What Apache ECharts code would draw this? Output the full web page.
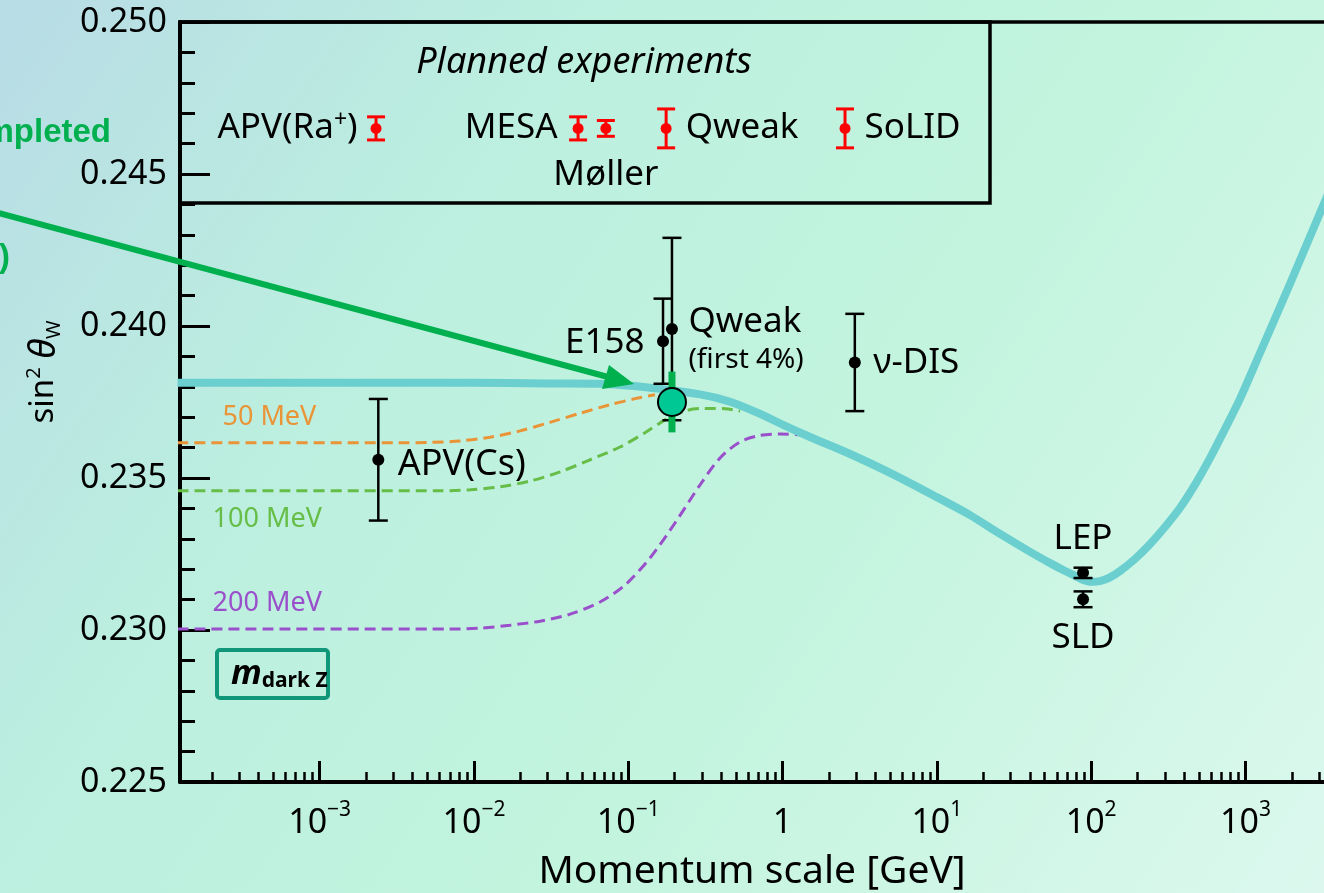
<!DOCTYPE html>
<html>
<head>
<meta charset="utf-8">
<title>Running of the weak mixing angle</title>
<script src="https://cdn.jsdelivr.net/npm/echarts@6/dist/echarts.min.js"></script>
<style>
  html, body { margin: 0; padding: 0; }
  #chart { width: 1324px; height: 893px; }
</style>
</head>
<body>
<div id="chart"></div>
<script>
// ---- data (momentum scale Q in GeV, sin^2 theta_W) ----

// Standard Model running of sin^2 theta_W
const smQ    = [1.2e-4, 1e-3, 0.01, 0.03, 0.0656, 0.138, 0.292, 0.457, 0.715, 1.007, 1.507, 2.74, 4.98, 10.0, 16.4, 25.7, 40.2, 54.2, 67.8, 78.7, 87.3, 98.4, 114.2, 132.5, 153.9, 192.6, 241, 301, 377, 471, 590, 738, 923, 1244, 1945, 4100];
const smSin2 = [0.23813, 0.23813, 0.23813, 0.23811, 0.2381, 0.23797, 0.23775, 0.23751, 0.23711, 0.23675, 0.23635, 0.23579, 0.23517, 0.23437, 0.23378, 0.23316, 0.23257, 0.2322, 0.23194, 0.23178, 0.23166, 0.23159, 0.23161, 0.23173, 0.23194, 0.23234, 0.23283, 0.23339, 0.23402, 0.23478, 0.23566, 0.23662, 0.23761, 0.23912, 0.24139, 0.24528];

// Dark Z scenarios
const dz50Q     = [1.2e-4, 0.00332, 0.00519, 0.00813, 0.0127, 0.0199, 0.0311, 0.0487, 0.0762, 0.1107, 0.149];
const dz50Sin2  = [0.23616, 0.23616, 0.23617, 0.23622, 0.23634, 0.23655, 0.23683, 0.23713, 0.23741, 0.23761, 0.23774];
const dz100Q    = [1.2e-4, 0.00603, 0.00944, 0.01476, 0.0231, 0.0361, 0.0565, 0.0885, 0.1285, 0.1733, 0.2335, 0.315, 0.424, 0.531];
const dz100Sin2 = [0.23458, 0.23458, 0.23461, 0.23471, 0.2349, 0.2352, 0.2356, 0.23602, 0.23649, 0.23691, 0.23721, 0.23729, 0.23728, 0.2372];
const dz200Q    = [1.2e-4, 0.007, 0.01096, 0.01714, 0.0268, 0.042, 0.0656, 0.0953, 0.1384, 0.2009, 0.2917, 0.3936, 0.531, 0.7147, 0.963, 1.298];
const dz200Sin2 = [0.23003, 0.23003, 0.23006, 0.23016, 0.23029, 0.23052, 0.23092, 0.23148, 0.23237, 0.23352, 0.23477, 0.23566, 0.23619, 0.2364, 0.23645, 0.23642];
const dzTags    = ['50 MeV', '100 MeV', '200 MeV'];

// Completed measurements
const measNames = ['APV(Cs)', 'E158', 'Qweak', 'ν-DIS', 'LEP', 'SLD'];
const measQ     = [0.0024, 0.168, 0.192, 2.94, 88.6, 88.6];
const measSin2  = [0.2356, 0.2395, 0.2399, 0.2388, 0.23188, 0.23101];
const measErr   = [0.0020, 0.0014, 0.0030, 0.0016, 0.00017, 0.00026];

// Qweak final result
const qweakQ = [0.192];
const qweakSin2 = [0.2375];
const qweakErr = [0.0010];

// Planned experiments (projected uncertainties)
const planNames = ['APV(Ra⁺)', 'MESA', 'Møller', 'Qweak', 'SoLID'];
const planQ     = [0.00232, 0.0473, 0.0716, 0.176, 2.54];
const planSin2  = [0.2465, 0.2465, 0.2465, 0.2465, 0.2465];
const planErr   = [0.00038, 0.00038, 0.00026, 0.00064, 0.00064];

// Axis ticks
const decadeTicks = [-3, -2, -1, 0, 1, 2, 3];
const minorMultipliers = [2, 3, 4, 5, 6, 7, 8, 9];

// ---- layout and styles ----
const FONT = '"Noto Sans", sans-serif';
const X_MIN = -3.905, X_MAX = 3.509;
const lg = Math.log10;

const minorTicks = [];
for (let d = -4; d <= 3; d++) {
  minorMultipliers.forEach(k => {
    const v = d + lg(k);
    if (v > X_MIN && v < X_MAX) minorTicks.push(v);
  });
}

function curveSeries(qs, vals, color, width, dashed, z) {
  return {
    type: 'line',
    data: qs.map((q, i) => [lg(q), vals[i]]),
    showSymbol: false,
    symbol: 'none',
    smooth: 0.3,
    clip: true,
    silent: true,
    z: z,
    lineStyle: { color: color, width: width, type: dashed ? [11, 6] : 'solid', cap: 'butt', opacity: 1 }
  };
}

function errorBarRenderer(color, lineW, capW, dotR) {
  return function (params, api) {
    const x = api.value(0), y = api.value(1), e = api.value(2);
    const c = api.coord([x, y]);
    const hi = api.coord([x, y + e]);
    const lo = api.coord([x, y - e]);
    const h = capW / 2;
    const st = { stroke: color, lineWidth: lineW };
    return {
      type: 'group',
      children: [
        { type: 'line', shape: { x1: c[0], y1: hi[1], x2: c[0], y2: lo[1] }, style: st },
        { type: 'line', shape: { x1: c[0] - h, y1: hi[1], x2: c[0] + h, y2: hi[1] }, style: st },
        { type: 'line', shape: { x1: c[0] - h, y1: lo[1], x2: c[0] + h, y2: lo[1] }, style: st },
        { type: 'circle', shape: { cx: c[0], cy: c[1], r: dotR }, style: { fill: color } }
      ]
    };
  };
}

// label placement for each measurement
const measLabel = {
  'APV(Cs)': { position: 'right', distance: 19, offset: [0, 5], fontSize: 36 },
  'E158':    { position: 'left', distance: 18, offset: [0, 2], fontSize: 35 },
  'Qweak':   { position: 'right', distance: 16, offset: [0, 12], fontSize: 35, sub: '(first 4%)' },
  'ν-DIS':   { position: 'right', distance: 18, offset: [0, 1], fontSize: 35 },
  'LEP':     { position: 'top', distance: 14, offset: [0, 0], fontSize: 35 },
  'SLD':     { position: 'bottom', distance: 19, offset: [0, 0], fontSize: 35 }
};
const planLabel = {
  'APV(Ra⁺)': { position: 'left', distance: 18 },
  'MESA':     { position: 'left', distance: 20 },
  'Møller':   { position: 'bottom', distance: 27 },
  'Qweak':    { position: 'right', distance: 19 },
  'SoLID':    { position: 'right', distance: 19 }
};
// curve tags sit at the left of each dark Z curve
const dzTagAnchors = [[-3.633, 0.23698], [-3.697, 0.23365], [-3.697, 0.23089]];
const dzColors = ['#ea9438', '#66bd47', '#9a4fcb'];

const measLabelData = measNames.map((n, i) => {
  const cfg = measLabel[n];
  const text = cfg.sub ? '{a|' + n + '}\n{b|' + cfg.sub + '}' : '{a|' + n + '}';
  return {
    value: [lg(measQ[i]), measSin2[i]],
    label: {
      show: true, position: cfg.position, distance: cfg.distance, offset: cfg.offset,
      formatter: text, opacity: 1, color: '#000',
      rich: {
        a: { fontFamily: FONT, fontSize: cfg.fontSize, color: '#000', lineHeight: 38 },
        b: { fontFamily: FONT, fontSize: 28, color: '#000', lineHeight: 38 }
      }
    }
  };
});

const planLabelData = planNames.map((n, i) => {
  const cfg = planLabel[n];
  return {
    value: [lg(planQ[i]), planSin2[i]],
    label: {
      show: true, position: cfg.position, distance: cfg.distance, opacity: 1, color: '#000',
      formatter: '{t|' + n.replace('⁺', '}{p|+}{t|') + '}',
      rich: {
        t: { fontFamily: FONT, fontSize: 35, color: '#000', lineHeight: 38, verticalAlign: 'middle' },
        p: { fontFamily: FONT, fontSize: 23, color: '#000', lineHeight: 22, verticalAlign: 'top' }
      }
    }
  };
});

const dzTagData = dzTags.map((t, i) => ({
  value: dzTagAnchors[i],
  label: {
    show: true, position: 'right', distance: 0, formatter: t, opacity: 1,
    fontFamily: FONT, fontSize: 27, color: dzColors[i]
  }
}));

const textSeries = (data, z) => ({
  type: 'scatter', data: data, symbolSize: 1, silent: true, z: z,
  itemStyle: { color: 'rgba(0,0,0,0)', opacity: 1 }
});

const chart = echarts.init(document.getElementById('chart'), null, { renderer: 'canvas' });

chart.setOption({
  animation: false,
  backgroundColor: {
    type: 'linear', x: 0, y: 0, x2: 1, y2: 1,
    colorStops: [
      { offset: 0, color: '#b8dce6' },
      { offset: 0.3, color: '#bcefdf' },
      { offset: 0.6, color: '#c2f4de' },
      { offset: 1, color: '#dcf8ee' }
    ]
  },
  grid: { left: 180, right: 0, top: 22, bottom: 111, containLabel: false, outerBoundsMode: 'none' },
  xAxis: [
    {
      type: 'value', min: X_MIN, max: X_MAX, position: 'bottom',
      splitLine: { show: false },
      axisLine: { show: true, onZero: false, lineStyle: { color: '#000', width: 4 } },
      axisTick: { show: true, inside: true, length: 21, customValues: decadeTicks, lineStyle: { color: '#000', width: 3 } },
      axisLabel: {
        customValues: decadeTicks, margin: 18, color: '#000',
        formatter: v => v === 0 ? '{b|1}' : '{b|10}{s|' + (v < 0 ? '−' : '') + Math.abs(v) + '}',
        rich: {
          b: { fontFamily: FONT, fontSize: 34, color: '#000', lineHeight: 40, verticalAlign: 'bottom' },
          s: { fontFamily: FONT, fontSize: 21, color: '#000', lineHeight: 22, verticalAlign: 'top' }
        }
      },
      name: 'Momentum scale [GeV]', nameLocation: 'middle', nameGap: 68,
      nameTextStyle: { fontFamily: FONT, fontSize: 39, color: '#000', lineHeight: 44 }
    },
    {
      type: 'value', min: X_MIN, max: X_MAX, position: 'bottom',
      splitLine: { show: false },
      axisLine: { show: false, onZero: false },
      axisTick: { show: true, inside: true, length: 10, customValues: minorTicks, lineStyle: { color: '#000', width: 2.5 } },
      axisLabel: { show: false }
    },
    {
      type: 'value', min: X_MIN, max: X_MAX, position: 'top',
      splitLine: { show: false },
      axisLine: { show: true, onZero: false, lineStyle: { color: '#000', width: 3.5 } },
      axisTick: { show: false },
      axisLabel: { show: false }
    }
  ],
  yAxis: {
    type: 'value', min: 0.225, max: 0.250, interval: 0.005,
    splitLine: { show: false },
    axisLine: { show: true, onZero: false, lineStyle: { color: '#000', width: 4 } },
    axisTick: { show: true, inside: true, length: 30, lineStyle: { color: '#000', width: 3 } },
    minorTick: { show: true, splitNumber: 5, length: 15, lineStyle: { color: '#000', width: 3 } },
    axisLabel: { margin: 13, color: '#000', fontFamily: FONT, fontSize: 34, formatter: v => v.toFixed(3) },
    name: '{a|sin}{p|2}{a| }{t|θ}{w|W}',
    nameLocation: 'middle', nameGap: 116, nameRotate: 90,
    nameTextStyle: {
      padding: [0, 0, 0, 60],
      rich: {
        a: { fontFamily: FONT, fontSize: 33, color: '#000', lineHeight: 40, verticalAlign: 'middle' },
        p: { fontFamily: FONT, fontSize: 20, color: '#000', lineHeight: 20, verticalAlign: 'top' },
        t: { fontFamily: FONT, fontSize: 37, fontStyle: 'italic', color: '#000', lineHeight: 40, verticalAlign: 'middle' },
        w: { fontFamily: FONT, fontSize: 20, color: '#000', lineHeight: 20, verticalAlign: 'bottom' }
      }
    }
  },
  graphic: [
    // planned-experiments key box
    { type: 'rect', z: 20, shape: { x: 180, y: 22, width: 810, height: 181 },
      style: { fill: 'none', stroke: '#000', lineWidth: 3.5 } },
    { type: 'text', z: 20, x: 584, y: 63,
      style: { text: 'Planned experiments', font: 'italic 36px "Noto Sans", sans-serif', fill: '#000', align: 'center', verticalAlign: 'middle' } },
    // dark Z mass tag
    { type: 'rect', z: 20, shape: { x: 217, y: 650, width: 111, height: 48, r: 3 },
      style: { fill: 'none', stroke: '#10977a', lineWidth: 4 } },
    { type: 'text', z: 20, x: 231, y: 674,
      style: {
        text: '{m|m}{s|dark Z}', align: 'left', verticalAlign: 'middle',
        rich: {
          m: { font: 'bold italic 34px "Noto Sans", sans-serif', fill: '#000', lineHeight: 36, verticalAlign: 'middle' },
          s: { font: 'bold 21px "Noto Sans", sans-serif', fill: '#000', lineHeight: 22, verticalAlign: 'bottom' }
        }
      } },
    // pointer to the Qweak result
    { type: 'line', z: 30, shape: { x1: -5, y1: 212, x2: 608, y2: 377 },
      style: { stroke: '#00b04f', lineWidth: 6 } },
    { type: 'polygon', z: 30, shape: { points: [[634, 384], [602, 389], [609, 365]] },
      style: { fill: '#00b04f' } },
    { type: 'text', z: 30, x: 111, y: 133,
      style: { text: 'Completed', font: 'bold 33px "Liberation Sans", Arial, sans-serif', fill: '#00b04f', align: 'right', verticalAlign: 'middle' } },
    { type: 'text', z: 30, x: -1, y: 258,
      style: { text: ')', font: 'bold 33px "Liberation Sans", Arial, sans-serif', fill: '#00b04f', align: 'left', verticalAlign: 'middle' } }
  ],
  series: [
    curveSeries(dz50Q, dz50Sin2, dzColors[0], 3, true, 2),
    curveSeries(dz100Q, dz100Sin2, dzColors[1], 3, true, 2),
    curveSeries(dz200Q, dz200Sin2, dzColors[2], 3, true, 2),
    curveSeries(smQ, smSin2, '#6bcfcf', 8, false, 3),
    {
      type: 'custom', z: 4, silent: true,
      renderItem: errorBarRenderer('#000', 2.5, 19, 6),
      encode: { x: 0, y: 1 },
      data: measNames.map((n, i) => [lg(measQ[i]), measSin2[i], measErr[i]])
    },
    {
      type: 'custom', z: 5, silent: true,
      encode: { x: 0, y: 1 },
      data: qweakQ.map((q, i) => [lg(q), qweakSin2[i], qweakErr[i]]),
      renderItem: function (params, api) {
        const x = api.value(0), y = api.value(1), e = api.value(2);
        const c = api.coord([x, y]);
        const hi = api.coord([x, y + e]);
        const lo = api.coord([x, y - e]);
        return {
          type: 'group',
          children: [
            { type: 'rect', shape: { x: c[0] - 3.5, y: hi[1], width: 7, height: lo[1] - hi[1] }, style: { fill: '#00b04f' } },
            { type: 'circle', shape: { cx: c[0], cy: c[1], r: 14 }, style: { fill: '#00c894', stroke: '#000', lineWidth: 2 } }
          ]
        };
      }
    },
    {
      type: 'custom', z: 5, silent: true,
      renderItem: errorBarRenderer('#ff0000', 3, 18, 5.5),
      encode: { x: 0, y: 1 },
      data: planNames.map((n, i) => [lg(planQ[i]), planSin2[i], planErr[i]])
    },
    textSeries(measLabelData, 6),
    textSeries(planLabelData, 21),
    textSeries(dzTagData, 6)
  ]
});
</script>
</body>
</html>
